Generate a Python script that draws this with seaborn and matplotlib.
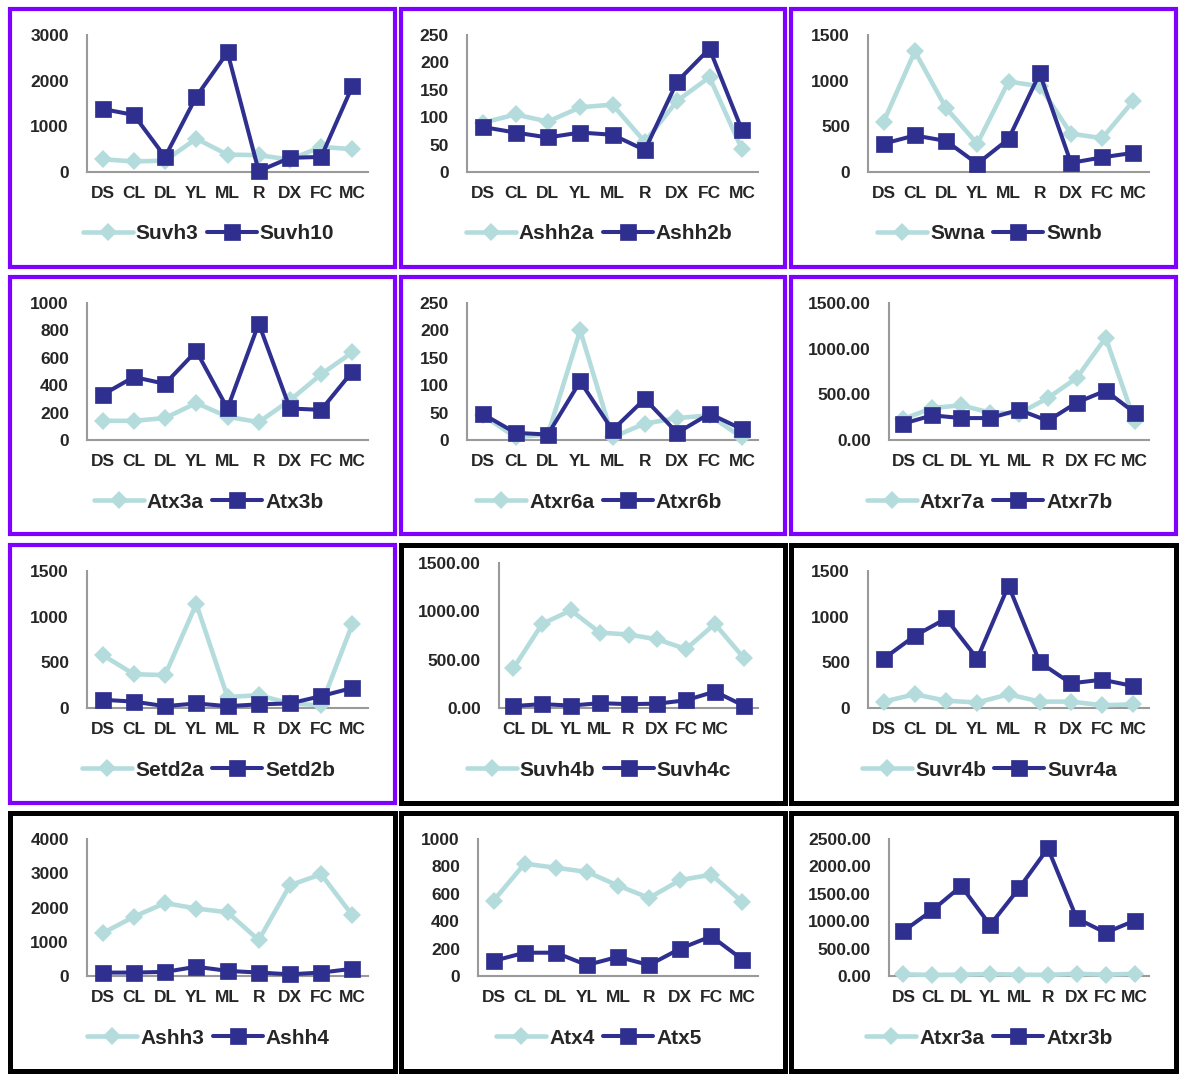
import matplotlib
matplotlib.use("Agg")
import matplotlib.pyplot as plt
from matplotlib.patches import Rectangle
from matplotlib.ticker import FormatStrFormatter, MultipleLocator
import numpy as np
import seaborn as sns

tissues = ["DS", "CL", "DL", "YL", "ML", "R", "DX", "FC", "MC"]
# the Suvh4 chart has its labels shifted by one (DS is missing)
tissues_suvh4 = ["CL", "DL", "YL", "ML", "R", "DX", "FC", "MC", ""]

suvh3 = [280, 230, 250, 730, 380, 370, 270, 550, 500]
suvh10 = [1380, 1250, 330, 1650, 2620, 20, 310, 330, 1880]
ashh2a = [90, 105, 92, 118, 123, 55, 130, 173, 42]
ashh2b = [82, 72, 63, 72, 68, 40, 165, 225, 77]
swna = [550, 1320, 700, 310, 990, 940, 420, 370, 780]
swnb = [310, 400, 340, 90, 360, 1080, 100, 160, 210]
atx3a = [140, 140, 160, 270, 170, 130, 290, 480, 640]
atx3b = [330, 460, 410, 650, 230, 850, 230, 220, 500]
atxr6a = [45, 5, 10, 200, 5, 30, 40, 45, 5]
atxr6b = [47, 13, 10, 107, 18, 75, 13, 48, 20]
atxr7a = [230, 350, 380, 300, 290, 460, 680, 1120, 210]
atxr7b = [180, 270, 240, 240, 330, 210, 410, 540, 300]
setd2a = [580, 370, 360, 1140, 120, 140, 50, 30, 920]
setd2b = [90, 70, 20, 50, 20, 40, 50, 130, 220]
suvh4b = [410, 870, 1010, 780, 760, 710, 610, 870, 520]
suvh4c = [20, 40, 25, 50, 40, 45, 80, 170, 25]
suvr4b = [70, 150, 80, 60, 150, 70, 70, 30, 40]
suvr4a = [540, 790, 980, 540, 1340, 500, 270, 310, 240]
ashh3 = [1250, 1730, 2130, 1970, 1860, 1050, 2650, 2970, 1770]
ashh4 = [100, 100, 120, 270, 150, 100, 50, 100, 210]
atx4 = [550, 820, 790, 760, 660, 570, 700, 740, 540]
atx5 = [110, 170, 170, 80, 140, 80, 200, 290, 120]
atxr3a = [30, 20, 25, 35, 25, 20, 40, 25, 40]
atxr3b = [820, 1200, 1640, 930, 1600, 2330, 1050, 790, 1010]

# (light name, light values, dark name, dark values, y max, y step, decimals, x labels, purple border)
panels = [
    ("Suvh3", suvh3, "Suvh10", suvh10, 3000, 1000, 0, tissues, True),
    ("Ashh2a", ashh2a, "Ashh2b", ashh2b, 250, 50, 0, tissues, True),
    ("Swna", swna, "Swnb", swnb, 1500, 500, 0, tissues, True),
    ("Atx3a", atx3a, "Atx3b", atx3b, 1000, 200, 0, tissues, True),
    ("Atxr6a", atxr6a, "Atxr6b", atxr6b, 250, 50, 0, tissues, True),
    ("Atxr7a", atxr7a, "Atxr7b", atxr7b, 1500, 500, 2, tissues, True),
    ("Setd2a", setd2a, "Setd2b", setd2b, 1500, 500, 0, tissues, True),
    ("Suvh4b", suvh4b, "Suvh4c", suvh4c, 1500, 500, 2, tissues_suvh4, False),
    ("Suvr4b", suvr4b, "Suvr4a", suvr4a, 1500, 500, 0, tissues, False),
    ("Ashh3", ashh3, "Ashh4", ashh4, 4000, 1000, 0, tissues, False),
    ("Atx4", atx4, "Atx5", atx5, 1000, 200, 0, tissues, False),
    ("Atxr3a", atxr3a, "Atxr3b", atxr3b, 2500, 500, 2, tissues, False),
]

W, H = 1200, 1083
LIGHT = "#b5dcdd"
DARK = "#2e2f8e"
PURPLE = "#8000ff"
AXIS_GREY = "#9a9a9a"

cols = [(10, 395), (401, 785), (791, 1176)]
rows = [(9, 267), (277, 534), (545, 803), (813, 1071)]

sns.set_style("white")
plt.rcParams["font.family"] = ["Liberation Sans", "DejaVu Sans"]
plt.rcParams["font.weight"] = "bold"

fig = plt.figure(figsize=(W / 100, H / 100), dpi=100)


def to_fig(x0, y0, x1, y1):
    return [x0 / W, 1 - y1 / H, (x1 - x0) / W, (y1 - y0) / H]


for i, (n1, v1, n2, v2, ymax, step, dec, labels, purple) in enumerate(panels):
    px0, px1 = cols[i % 3]
    py0, py1 = rows[i // 3]

    # left margin depends on the width of the y tick labels
    if dec:
        left = 98
    elif ymax < 1000:
        left = 66
    else:
        left = 77
    top = 18 if n1 == "Suvh4b" else 26
    ax = fig.add_axes(to_fig(px0 + left, py0 + top, px1 - 27, py0 + 163))

    x = np.arange(len(tissues))
    sns.lineplot(x=x, y=v1, ax=ax, color=LIGHT, linewidth=3.3, marker="D",
                 markersize=9, markeredgecolor=LIGHT, markeredgewidth=0,
                 label=n1, clip_on=False, zorder=3)
    sns.lineplot(x=x, y=v2, ax=ax, color=DARK, linewidth=2.9, marker="s",
                 markersize=12, markeredgecolor=DARK, markeredgewidth=0.5,
                 label=n2, clip_on=False, zorder=4)

    ax.set_xlim(-0.5, len(tissues) - 0.5)
    ax.set_ylim(0, ymax)
    ax.yaxis.set_major_locator(MultipleLocator(step))
    if dec:
        ax.yaxis.set_major_formatter(FormatStrFormatter("%.2f"))
    ax.set_xticks(x)
    ax.set_xticklabels(labels)
    ax.set_xticks(np.arange(-0.5, len(tissues)), minor=True)
    ax.tick_params(axis="x", which="major", length=0, pad=10, labelsize=12.5)
    ax.tick_params(axis="x", which="minor", length=5, width=1.2, color=AXIS_GREY,
                   direction="out")
    ax.tick_params(axis="y", which="major", length=4, width=1.2, color=AXIS_GREY,
                   direction="out", pad=9, labelsize=12.5)
    for t in ax.get_xticklabels() + ax.get_yticklabels():
        t.set_fontweight("bold")
    sns.despine(ax=ax)
    for side in ("left", "bottom"):
        ax.spines[side].set_color(AXIS_GREY)
        ax.spines[side].set_linewidth(1.5)
    ax.set_xlabel("")
    ax.set_ylabel("")

    handles, names = ax.get_legend_handles_labels()
    cx = (px0 + px1) / 2 + 6
    cy = py0 + 225
    ax.legend(handles, names, loc="center", bbox_to_anchor=(cx / W, 1 - cy / H),
              bbox_transform=fig.transFigure, ncol=2, frameon=False,
              prop={"size": 15, "weight": "bold"}, handlelength=2.4,
              handletextpad=0.15, columnspacing=0.4, borderaxespad=0)

    fig.add_artist(Rectangle((px0 / W, 1 - py1 / H), (px1 - px0) / W, (py1 - py0) / H,
                             transform=fig.transFigure, fill=False,
                             edgecolor=PURPLE if purple else "black",
                             linewidth=3 if purple else 3.6))

fig.savefig("out.png", dpi=100)
